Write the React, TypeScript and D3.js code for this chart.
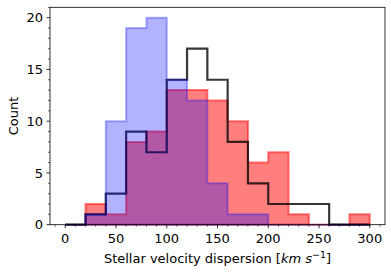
import React from "react";
import * as d3 from "d3";

const binEdges = [0, 20, 40, 60, 80, 100, 120, 140, 160, 180, 200, 220, 240, 260, 280, 300];
const redCounts = [0, 2, 1, 8, 9, 13, 13, 12, 10, 6, 7, 1, 0, 0, 1];
const blackCounts = [0, 1, 3, 9, 7, 14, 17, 14, 8, 4, 2, 2, 2, 0, 0];
const blueCounts = [0, 1, 10, 19, 20, 14, 12, 4, 1, 1, 0, 0, 0, 0, 0];
const xTicks = [0, 50, 100, 150, 200, 250, 300];
const yTicks = [0, 5, 10, 15, 20];

const W = 391, H = 278;
const L = 50, R = 385, T = 7.3, B = 224.7;

export default function App() {
  const x = d3.scaleLinear().domain([-15, 315]).range([L, R]);
  const y = d3.scaleLinear().domain([0, 21]).range([B, T]);
  const line = d3.line<[number, number]>().x(d => x(d[0])).y(d => y(d[1]));

  const stepPts = (counts: number[]): [number, number][] => {
    const pts: [number, number][] = [[binEdges[0], 0]];
    counts.forEach((c, i) => {
      pts.push([binEdges[i], c]);
      pts.push([binEdges[i + 1], c]);
    });
    pts.push([binEdges[binEdges.length - 1], 0]);
    return pts;
  };

  const xMinor = d3.range(-10, 315, 10).filter(v => v % 50 !== 0);
  const yMinor = d3.range(0, 21.01, 1).filter(v => v % 5 !== 0);
  const font = "DejaVu Sans, sans-serif";

  return (
    <svg width={W} height={H} style={{ position: "absolute", left: 0, top: 0 }} fontFamily={font}>
      <rect x={0} y={0} width={W} height={H} fill="white" />
      <path d={line(stepPts(redCounts)) + "Z"} fill="red" fillOpacity={0.5} stroke="red" strokeOpacity={0.5} strokeWidth={2} strokeLinejoin="miter" />
      <path d={line(stepPts(blackCounts))!} fill="none" stroke="black" strokeOpacity={0.78} strokeWidth={2.2} />
      <path d={line(stepPts(blueCounts)) + "Z"} fill="blue" fillOpacity={0.3} stroke="blue" strokeOpacity={0.3} strokeWidth={2} />
      <rect x={L} y={T} width={R - L} height={B - T} fill="none" stroke="black" strokeWidth={0.8} />
      {xTicks.map(t => (
        <g key={"xt" + t}>
          <line x1={x(t)} x2={x(t)} y1={B} y2={B + 3.5} stroke="black" strokeWidth={0.8} />
          <text x={x(t)} y={B + 18} textAnchor="middle" fontSize={13} fill="#000">{t}</text>
        </g>
      ))}
      {xMinor.map(t => (
        <line key={"xm" + t} x1={x(t)} x2={x(t)} y1={B} y2={B + 2} stroke="black" strokeWidth={0.6} />
      ))}
      {yTicks.map(t => (
        <g key={"yt" + t}>
          <line x1={L} x2={L - 3.5} y1={y(t)} y2={y(t)} stroke="black" strokeWidth={0.8} />
          <text x={L - 7} y={y(t) + 4.7} textAnchor="end" fontSize={13} fill="#000">{t}</text>
        </g>
      ))}
      {yMinor.map(t => (
        <line key={"ym" + t} x1={L} x2={L - 2} y1={y(t)} y2={y(t)} stroke="black" strokeWidth={0.6} />
      ))}
      <text x={(L + R) / 2} y={263} textAnchor="middle" fontSize={13} fill="#000">
        Stellar velocity dispersion [<tspan fontStyle="italic">km s</tspan><tspan fontSize={9.5} dy={-5}>−1</tspan><tspan dy={5}>]</tspan>
      </text>
      <text transform={`translate(18,${(T + B) / 2}) rotate(-90)`} textAnchor="middle" fontSize={13} fill="#000">Count</text>
    </svg>
  );
}
